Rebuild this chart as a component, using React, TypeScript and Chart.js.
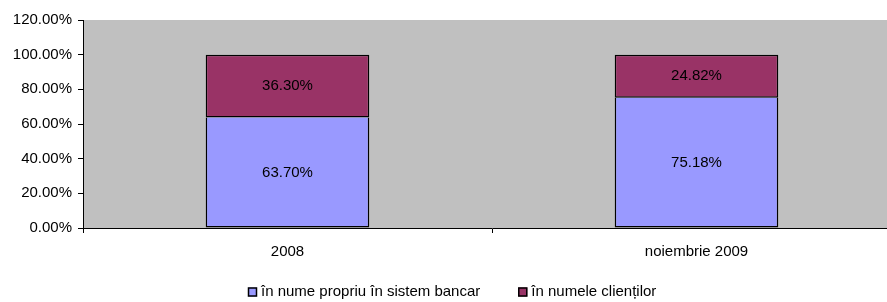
import React, { useEffect, useRef } from "react";
import { Chart, registerables } from "chart.js";

Chart.register(...registerables);

const categories = ["2008", "noiembrie 2009"];
const seriesNames = ["în nume propriu în sistem bancar", "în numele clienților"];
const ownName = [63.7, 75.18];
const clientsName = [36.3, 24.82];
const yTicks = [0, 20, 40, 60, 80, 100, 120];

const FONT = "'Liberation Sans', Arial, sans-serif";

const bgPlugin = {
  id: "plotBg",
  beforeDraw(chart: any) {
    const { ctx, chartArea } = chart;
    ctx.save();
    ctx.fillStyle = "#C0C0C0";
    ctx.fillRect(chartArea.left, chartArea.top, chartArea.right - chartArea.left, chartArea.bottom - chartArea.top);
    ctx.restore();
  },
};

const labelPlugin = {
  id: "segLabels",
  afterDatasetsDraw(chart: any) {
    const { ctx } = chart;
    ctx.save();
    ctx.font = `15px ${FONT}`;
    ctx.fillStyle = "#000";
    ctx.textAlign = "center";
    ctx.textBaseline = "middle";
    chart.data.datasets.forEach((ds: any, di: number) => {
      const meta = chart.getDatasetMeta(di);
      meta.data.forEach((el: any, i: number) => {
        const v = ds.data[i];
        const y = (el.y + el.base) / 2;
        ctx.fillText(v.toFixed(2) + "%", el.x, y);
      });
    });
    ctx.restore();
  },
};

const legendPlugin = {
  id: "customLegend",
  afterDraw(chart: any) {
    const { ctx } = chart;
    const box = 9;
    const gapText = 4;
    const gapItem = 38;
    const yc = 292;
    ctx.save();
    ctx.font = `15px ${FONT}`;
    const items = chart.data.datasets.map((ds: any) => ({
      text: ds.label,
      color: ds.backgroundColor,
      w: ctx.measureText(ds.label).width,
    }));
    let total = 0;
    items.forEach((it: any, i: number) => {
      total += box + gapText + it.w + (i < items.length - 1 ? gapItem : 0);
    });
    let x = Math.round(452 - total / 2);
    items.forEach((it: any) => {
      ctx.fillStyle = it.color;
      ctx.fillRect(x, yc - box / 2, box, box);
      ctx.strokeStyle = "#000";
      ctx.lineWidth = 1.5;
      ctx.strokeRect(x + 0.5, yc - box / 2 + 0.5, box - 1, box - 1);
      ctx.fillStyle = "#000";
      ctx.textAlign = "left";
      ctx.textBaseline = "middle";
      ctx.fillText(it.text, x + box + gapText, yc);
      x += box + gapText + it.w + gapItem;
    });
    ctx.restore();
  },
};

export default function App() {
  const ref = useRef<HTMLCanvasElement>(null);
  useEffect(() => {
    if (!ref.current) return;
    Chart.defaults.font.family = FONT;
    Chart.defaults.font.size = 15;
    Chart.defaults.color = "#000";
    const common = {
      borderColor: "#000",
      borderWidth: 1.5,
      barPercentage: 0.4,
      categoryPercentage: 1,
    };
    const chart = new Chart(ref.current, {
      type: "bar",
      data: {
        labels: categories,
        datasets: [
          { label: seriesNames[0], data: ownName, backgroundColor: "#9999FF", borderSkipped: "top", ...common },
          { label: seriesNames[1], data: clientsName, backgroundColor: "#993366", borderSkipped: false, ...common },
        ],
      },
      options: {
        responsive: false,
        animation: false,
        devicePixelRatio: 1,
        layout: { padding: { top: 20, left: 8, right: 0, bottom: 34 } },
        plugins: {
          tooltip: { enabled: false },
          legend: { display: false },
        },
        scales: {
          x: {
            stacked: true,
            afterFit(scale: any) {
              scale.height = 40;
            },
            grid: {
              offset: true,
              drawOnChartArea: false,
              drawTicks: true,
              tickLength: 5,
              color: "#000",
            },
            border: { display: true, color: "#000", width: 1 },
            ticks: { padding: 10, color: "#000", font: { size: 15 } },
          },
          y: {
            stacked: true,
            min: 0,
            max: 120,
            afterFit(scale: any) {
              scale.width = 75;
            },
            afterBuildTicks(scale: any) {
              scale.ticks = yTicks.map((v) => ({ value: v }));
            },
            grid: {
              drawOnChartArea: false,
              drawTicks: true,
              tickLength: 5,
              color: "#000",
            },
            border: { display: true, color: "#000", width: 1 },
            ticks: {
              padding: 6,
              color: "#000",
              font: { size: 15 },
              callback: (v: any) => Number(v).toFixed(2) + "%",
            },
          },
        },
      },
      plugins: [bgPlugin, labelPlugin, legendPlugin],
    });
    return () => chart.destroy();
  }, []);
  return (
    <div style={{ position: "absolute", left: 0, top: 0, width: 887, height: 302, overflow: "hidden", background: "#fff" }}>
      <canvas ref={ref} width={901} height={302} style={{ display: "block", width: 901, height: 302 }} />
    </div>
  );
}
